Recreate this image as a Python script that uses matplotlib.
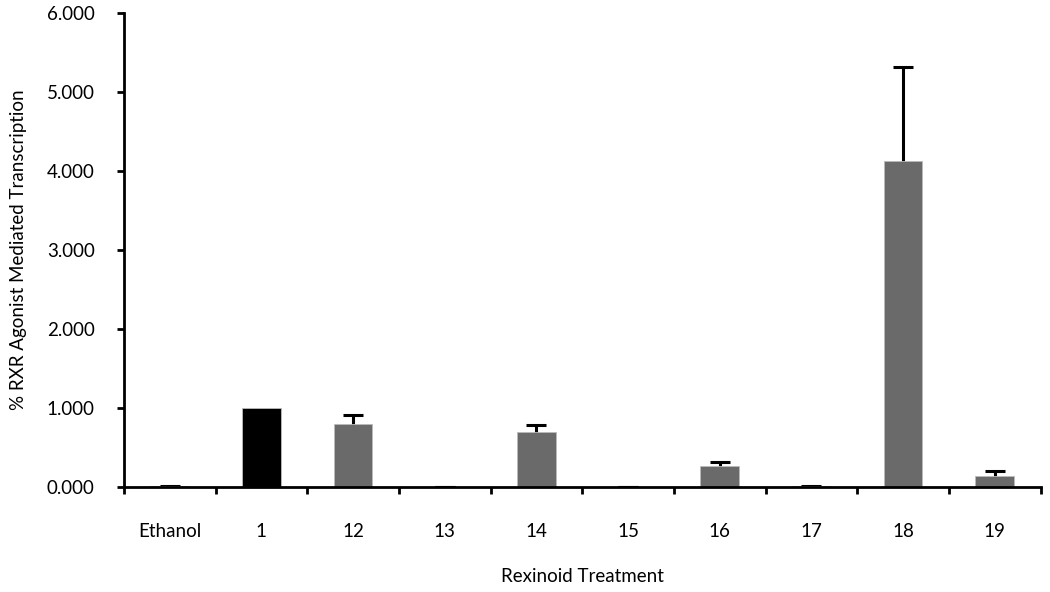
import matplotlib.pyplot as plt
import numpy as np

plt.rcParams['font.family'] = ['Lato', 'DejaVu Sans']

categories = ["Ethanol", "1", "12", "13", "14", "15", "16", "17", "18", "19"]
values = [0.010, 1.000, 0.800, 0.005, 0.700, 0.003, 0.270, 0.010, 4.130, 0.140]
errors = [0.010, 0.000, 0.120, 0.003, 0.085, 0.002, 0.055, 0.008, 1.190, 0.065]
colors = ["#000000", "#000000", "#6a6a6a", "#6a6a6a", "#6a6a6a",
          "#6a6a6a", "#6a6a6a", "#6a6a6a", "#6a6a6a", "#6a6a6a"]

fig = plt.figure(figsize=(10.5, 5.92), dpi=100)
ax = fig.add_axes([0.118, 0.177, 0.873, 0.801])

x = np.arange(len(categories))
vals = np.array(values)
errs = np.array(errors)

# upper error bars only (drawn behind bars, lower half hidden/clipped)
has_err = errs > 0
ax.errorbar(x[has_err], vals[has_err], yerr=errs[has_err], fmt="none",
            ecolor="black", elinewidth=2.2, capsize=7, capthick=2.2, zorder=1)
ax.bar(x, vals, width=0.42, color=colors, edgecolor="#bbbbbb", linewidth=0.6, zorder=2)

ax.set_xlim(-0.5, len(categories) - 0.5)
ax.set_ylim(0, 6)
ax.set_yticks(np.arange(0, 7, 1))
ax.set_yticklabels([f"{v:.3f}" for v in np.arange(0, 7, 1)])
ax.set_xticks(x)
ax.set_xticklabels(categories)
ax.set_xticks(np.arange(-0.5, len(categories), 1), minor=True)
ax.tick_params(axis="x", which="major", length=0, pad=26, labelsize=13.5)
ax.tick_params(axis="x", which="minor", length=5, width=2, direction="out")
ax.tick_params(axis="y", length=5, width=2, direction="out", labelsize=13.5, pad=16)

for s in ["top", "right"]:
    ax.spines[s].set_visible(False)
for s in ["left", "bottom"]:
    ax.spines[s].set_linewidth(2)

ax.set_xlabel("Rexinoid Treatment", fontsize=13.5, labelpad=20)
ax.set_ylabel("% RXR Agonist Mediated Transcription", fontsize=13.5, labelpad=14)

fig.savefig("out.png", dpi=100, facecolor="white")
